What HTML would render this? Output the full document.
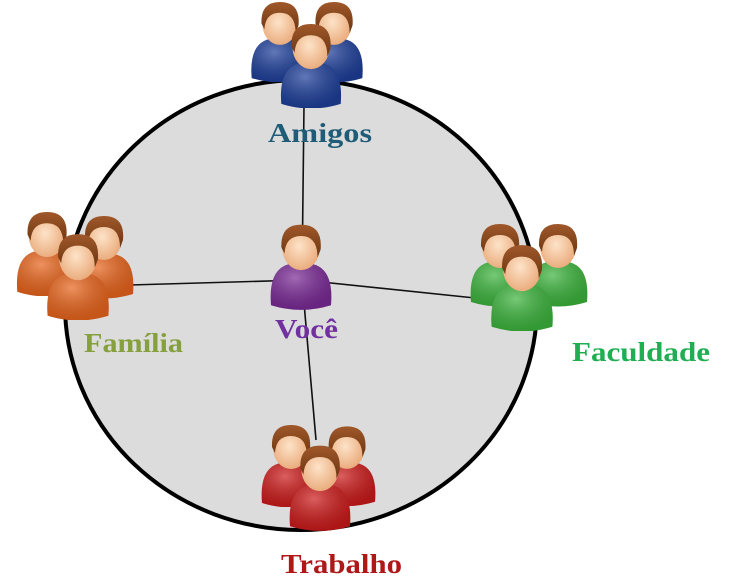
<!DOCTYPE html>
<html><head><meta charset="utf-8"><style>
html,body{margin:0;padding:0;background:#fff;width:730px;height:588px;overflow:hidden}
text{font-family:"Liberation Serif",serif;font-weight:bold;font-size:27px}
</style></head><body>
<svg width="730" height="588" viewBox="0 0 730 588" xmlns="http://www.w3.org/2000/svg">
<defs>
<radialGradient id="skin" cx="0.45" cy="0.45" r="0.6"><stop offset="0" stop-color="#fde3c8"/><stop offset="1" stop-color="#e9a878"/></radialGradient>
<linearGradient id="hair" x1="0" y1="0" x2="0" y2="1"><stop offset="0" stop-color="#a0582a"/><stop offset="1" stop-color="#6b3510"/></linearGradient>
<radialGradient id="shine" cx="0.4" cy="0.3" r="0.7"><stop offset="0" stop-color="#fff" stop-opacity="0.3"/><stop offset="1" stop-color="#000" stop-opacity="0.15"/></radialGradient>
<symbol id="p" viewBox="0 0 60 84">
<path d="M1,80 Q-2,44 20,40 L40,40 Q62,44 59,80 Q30,89 1,80Z" fill="currentColor"/>
<path d="M1,80 Q-2,44 20,40 L40,40 Q62,44 59,80 Q30,89 1,80Z" fill="url(#shine)"/>
<ellipse cx="30" cy="25" rx="18" ry="21" fill="url(#skin)"/>
<path d="M11,24 Q10,2 30,2 Q51,2 49,26 L46,34 Q46,13 30,13 Q15,13 14,30Z" fill="url(#hair)"/>
</symbol>
</defs>
<ellipse cx="301" cy="305" rx="236" ry="225" fill="#dcdcdc" stroke="#000" stroke-width="4"/>
<g stroke="#111" stroke-width="1.6">
<line x1="302" y1="280" x2="304" y2="105"/>
<line x1="302" y1="280" x2="130" y2="285"/>
<line x1="302" y1="280" x2="475" y2="298"/>
<line x1="302" y1="280" x2="316" y2="440"/>
</g>
<g color="#1e3f9a">
<use href="#p" x="250" y="0" width="60" height="82"/>
<use href="#p" x="304" y="0" width="60" height="82"/>
<use href="#p" x="279" y="22" width="64" height="86"/>
</g>
<g color="#e8641c">
<use href="#p" x="16" y="210" width="62" height="86"/>
<use href="#p" x="74" y="213" width="60" height="86"/>
<use href="#p" x="46" y="232" width="64" height="88"/>
</g>
<g color="#3cb43c">
<use href="#p" x="470" y="221" width="60" height="86"/>
<use href="#p" x="528" y="221" width="60" height="86"/>
<use href="#p" x="490" y="243" width="64" height="88"/>
</g>
<g color="#cc1a1a">
<use href="#p" x="261" y="423" width="60" height="84"/>
<use href="#p" x="318" y="423" width="58" height="84"/>
<use href="#p" x="289" y="443" width="62" height="88"/>
</g>
<g color="#7a2a96">
<use href="#p" x="270" y="222" width="62" height="88"/>
</g>
<text x="268" y="142" fill="#1f5c78" textLength="104" lengthAdjust="spacingAndGlyphs">Amigos</text>
<text x="84" y="352" fill="#86a03e" textLength="99" lengthAdjust="spacingAndGlyphs">Família</text>
<text x="275" y="338" fill="#7030a0" textLength="63" lengthAdjust="spacingAndGlyphs">Você</text>
<text x="572" y="361" fill="#1fae52" textLength="138" lengthAdjust="spacingAndGlyphs">Faculdade</text>
<text x="281" y="573" fill="#b01818" textLength="121" lengthAdjust="spacingAndGlyphs">Trabalho</text>
</svg>
</body></html>
